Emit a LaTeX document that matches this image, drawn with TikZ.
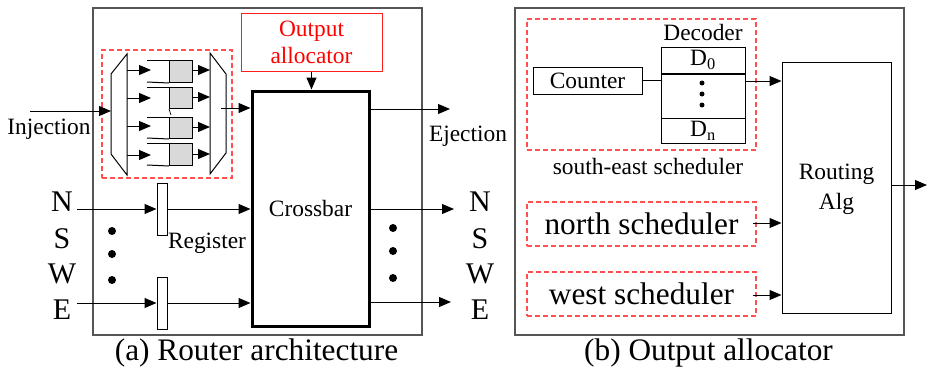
\documentclass[tikz,border=0pt]{standalone}
\usepackage{fontspec}
\setmainfont{Liberation Serif}
\usetikzlibrary{arrows.meta}
\definecolor{dashred}{RGB}{255,80,80}
\definecolor{allocred}{RGB}{255,30,30}
\definecolor{qgray}{RGB}{217,217,217}
\definecolor{framegray}{RGB}{85,85,85}

\begin{document}
\begin{tikzpicture}[x=1pt,y=-1pt,
  txt/.style={font=\fontsize{23.4}{29}\selectfont, inner sep=0pt, align=center},
  bigtxt/.style={font=\fontsize{31.3}{36}\selectfont, inner sep=0pt},
  dirtxt/.style={font=\fontsize{30}{36}\selectfont, inner sep=0pt},
  blk/.style 2 args={draw, line width=1pt, inner sep=0pt, minimum width=#1pt, minimum height=#2pt},
  frame/.style={draw=framegray, line width=1.2pt},
  redbox/.style={draw=dashred, line width=1.1pt, dash pattern=on 5pt off 3pt},
  arr/.style={-{Triangle[length=12pt,width=10pt]}, line width=1pt},
  wire/.style={line width=1pt},
  dot/.style={circle, fill=black, inner sep=0pt, minimum size=#1pt}
]
\useasboundingbox (0,0) rectangle (929,367);

% ---------------- (a) router architecture ----------------
\node[blk={329}{327}, frame] (routerbox) at (257.5,171.5) {};
\node[blk={130}{128}, redbox] (bufbox) at (167,114) {};

% input multiplexer and output demultiplexer
\draw[wire] (111,74) -- (127,54) -- (127,175) -- (111,154) -- cycle;
\draw[wire] (210,53) -- (226,74) -- (226,153) -- (210,174) -- cycle;

% injection port
\coordinate (injsrc) at (30,111);
\coordinate (muxin) at (111,111);
\draw[arr] (injsrc) -- (muxin);
\node[txt] (injlbl) at (49,129) {Injection};

% four virtual-channel queues
\foreach \i/\t/\b/\ain/\aout in {1/60/82/70/70, 2/87/108/98/97, 3/117/138/126/127, 4/143/165/155/154}{
  \node[blk={23}{\b-\t}, fill=qgray, anchor=north west] (q\i) at (169,\t) {};
  \draw[wire] (147,\t) -- (q\i.north west);
  \coordinate (mo\i) at (127,\ain);
  \coordinate (qi\i) at (151,\ain);
  \draw[arr] (mo\i) -- (qi\i);
  \coordinate (dmi\i) at (210,\aout);
  \draw[arr] (q\i.east |- dmi\i) -- (dmi\i);
}
\foreach \i/\b in {1/82, 3/138, 4/165}{
  \draw[wire] (147,\b) -- (q\i.south west);
}
\draw[line width=0.7pt] (q2.south west) -- (171,115);

% crossbar and its allocator
\node[blk={117}{235}, line width=3pt, txt] (xbar) at (310.5,208.5) {Crossbar};
\node[blk={141}{58}, draw=allocred, line width=1pt, txt, text=red] (alloc) at (311.5,42) {Output\\[-2pt]allocator};
\draw[arr] (alloc.south) -- (alloc.south |- xbar.north);

\coordinate (dmxout) at (221,108);
\draw[arr] (dmxout) -- (dmxout -| xbar.west);

% ejection port
\coordinate (ejdst) at (450,109);
\draw[arr] (xbar.east |- ejdst) -- (ejdst);
\node[txt] (ejlbl) at (468,136) {Ejection};

% input ports with registers
\node[dirtxt] (inN) at (62,202) {N};
\node[dirtxt] (inS) at (62,239) {S};
\node[dirtxt] (inW) at (62,274) {W};
\node[dirtxt] (inE) at (62,310) {E};
\node[blk={10}{52}] (reg1) at (162,209) {};
\node[blk={10}{52}] (reg2) at (162,303) {};
\coordinate (srcN) at (77,209);
\coordinate (srcE) at (77,303);
\draw[arr] (srcN) -- (reg1.west);
\draw[arr] (srcE) -- (reg2.west);
\draw[arr] (reg1.east) -- (reg1.east -| xbar.west);
\draw[arr] (reg2.east) -- (reg2.east -| xbar.west);
\node[txt] (reglbl) at (207,243) {Register};

\node[dot=8] (ld1) at (112,231) {};
\node[dot=8] (ld2) at (112,254) {};
\node[dot=8] (ld3) at (112,280) {};

% output ports
\coordinate (dstN) at (454,209);
\coordinate (dstE) at (451,302);
\draw[arr] (xbar.east |- dstN) -- (dstN);
\draw[arr] (xbar.east |- dstE) -- (dstE);
\node[dirtxt] (outN) at (480,202) {N};
\node[dirtxt] (outS) at (480,239) {S};
\node[dirtxt] (outW) at (480,274) {W};
\node[dirtxt] (outE) at (480,310) {E};
\node[dot=8] (rd1) at (393,228) {};
\node[dot=8] (rd2) at (393,251) {};
\node[dot=8] (rd3) at (393,278) {};

\node[bigtxt] (capa) at (256.5,353) {(a) Router architecture};

% ---------------- (b) output allocator ----------------
\node[blk={389}{327}, frame] (allocbox) at (709.5,171.5) {};

% south-east scheduler
\node[blk={229}{131}, redbox] (sesched) at (641.5,84.5) {};
\node[blk={109}{27}, txt] (counter) at (587.5,80.5) {Counter};
\node[blk={84}{26}, txt] (d0) at (703,60) {D\textsubscript{0}};
\node[blk={84}{45}] (dmid) at (703,95.5) {};
\node[blk={84}{25}, txt] (dn) at (703,130.5) {D\textsubscript{n}};
\draw[line width=2pt] (d0.south west) -- (d0.south east);
\node[dot=5] (dd1) at (702,83) {};
\node[dot=5] (dd2) at (702,94) {};
\node[dot=5] (dd3) at (702,105) {};
\node[txt] (declbl) at (703,32) {Decoder};
\node[txt] (selbl) at (648,166) {south-east scheduler};
\draw[wire] (counter.east) -- (counter.east -| dmid.west);

% routing algorithm block
\node[blk={109}{251}] (routing) at (836.5,187.5) {};
\node[txt] (routlbl) at (836.5,189) {Routing\\[1pt]Alg};
\coordinate (decout) at (745,81);
\draw[arr] (decout) -- (decout -| routing.west);

% north and west schedulers
\node[blk={229}{44}, redbox, bigtxt] (nsched) at (641.5,224) {north scheduler};
\node[blk={229}{44}, redbox, bigtxt] (wsched) at (641.5,294) {west scheduler};
\coordinate (nout) at (753,223);
\coordinate (wout) at (753,295);
\draw[arr] (nout) -- (nout -| routing.west);
\draw[arr] (wout) -- (wout -| routing.west);

\coordinate (routdst) at (927,185);
\draw[arr] (routing.east |- routdst) -- (routdst);

\node[bigtxt] (capb) at (708.5,353) {(b) Output allocator};
\end{tikzpicture}
\end{document}
